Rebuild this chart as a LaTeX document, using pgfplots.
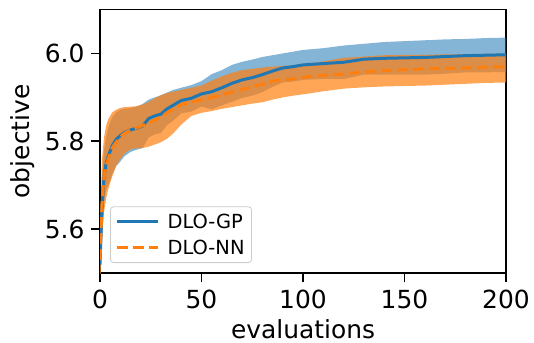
\documentclass[border=0pt]{standalone}
\usepackage{fontspec}
\setmainfont{DejaVu Sans}
\usepackage{pgfplots}
\usepackage{pgfplotstable}
\pgfplotsset{compat=1.18}
\usepgfplotslibrary{fillbetween}
\definecolor{tabblue}{HTML}{1F77B4}
\definecolor{taborange}{HTML}{FF7F0E}

\pgfplotstableread{
x    m      lo     hi
0    5.52   5.48   5.56
1    5.65   5.58   5.72
2    5.72   5.66   5.78
3    5.75   5.69   5.81
4    5.765  5.70   5.83
6    5.79   5.725  5.855
8    5.805  5.744  5.866
10   5.813  5.754  5.872
12   5.82   5.766  5.874
15   5.826  5.776  5.876
18   5.83   5.781  5.879
21   5.835  5.785  5.885
24   5.852  5.809  5.895
27   5.858  5.816  5.900
30   5.862  5.819  5.905
33   5.874  5.837  5.911
36   5.882  5.847  5.917
40   5.893  5.864  5.922
45   5.898  5.868  5.928
50   5.908  5.879  5.937
55   5.913  5.873  5.953
60   5.922  5.882  5.962
65   5.932  5.890  5.974
70   5.940  5.899  5.981
75   5.945  5.904  5.986
80   5.952  5.912  5.992
85   5.960  5.924  5.996
90   5.967  5.934  6.000
95   5.970  5.936  6.004
100  5.974  5.940  6.008
110  5.977  5.942  6.012
120  5.980  5.942  6.018
130  5.987  5.952  6.022
140  5.989  5.952  6.026
150  5.990  5.952  6.028
160  5.991  5.952  6.030
170  5.993  5.954  6.032
180  5.995  5.957  6.033
190  5.996  5.957  6.035
200  5.997  5.958  6.036
}\gpdata

\pgfplotstableread{
x    m      lo     hi
0    5.53   5.45   5.60
1    5.66   5.59   5.76
2    5.72   5.64   5.81
3    5.745  5.67   5.835
4    5.76   5.69   5.85
6    5.785  5.72   5.866
8    5.798  5.745  5.872
10   5.81   5.76   5.876
12   5.818  5.772  5.878
15   5.826  5.782  5.879
18   5.831  5.784  5.880
21   5.836  5.785  5.884
24   5.842  5.788  5.890
27   5.848  5.793  5.898
30   5.856  5.798  5.905
33   5.865  5.806  5.910
36   5.873  5.818  5.913
40   5.884  5.838  5.917
45   5.889  5.858  5.922
50   5.894  5.865  5.927
55   5.900  5.869  5.938
60   5.906  5.874  5.948
65   5.912  5.878  5.956
70   5.918  5.882  5.962
75   5.924  5.886  5.965
80   5.930  5.889  5.968
85   5.937  5.895  5.970
90   5.940  5.900  5.972
95   5.942  5.904  5.973
100  5.946  5.907  5.975
110  5.950  5.914  5.982
120  5.953  5.920  5.990
130  5.958  5.923  5.993
140  5.961  5.925  5.996
150  5.963  5.926  5.997
160  5.965  5.927  5.997
170  5.966  5.929  5.998
180  5.967  5.931  5.998
190  5.969  5.933  5.999
200  5.970  5.934  6.000
}\nndata

\begin{document}
\begin{tikzpicture}
\begin{axis}[
  at={(100bp,69.7bp)}, anchor=south west,
  scale only axis, width=406bp, height=263.8bp,
  xmin=0, xmax=200, ymin=5.5, ymax=6.1,
  xtick={0,50,100,150,200},
  ytick={5.6,5.8,6.0},
  yticklabel style={xshift=-3bp, /pgf/number format/.cd,fixed,fixed zerofill,precision=1},
  /pgf/number format/assume math mode=true,
  ticklabel style={font=\fontsize{25}{25}\selectfont},
  xticklabel style={yshift=-4bp},
  label style={font=\fontsize{25}{25}\selectfont},
  tick align=outside, tick pos=left,
  major tick length=9bp,
  every tick/.style={line width=1.8bp, black},
  axis line style={line width=1.8bp},
  xlabel={evaluations}, ylabel={objective},
  xlabel style={at={(axis description cs:0.5,-0.212)}, anchor=center, inner sep=0pt},
  ylabel style={at={(axis description cs:-0.19,0.5)}, anchor=center},
  legend style={at={(axis description cs:0.025,0.039)}, anchor=south west,
    draw=black!20, line width=0.8bp, rounded corners=3bp, fill=white, fill opacity=0.8, text opacity=1,
    font=\fontsize{19.5}{19.5}\selectfont, row sep=6bp, inner xsep=5bp, inner ysep=5bp,
    /tikz/every odd column/.style={column sep=6bp}},
  legend cell align=left,
  legend image code/.code={\draw[#1] (0bp,0bp) -- (41bp,0bp);},
]
\addplot[name path=gphi, draw=none, forget plot] table[x=x,y=hi]{\gpdata};
\addplot[name path=gplo, draw=none, forget plot] table[x=x,y=lo]{\gpdata};
\addplot[fill=tabblue, fill opacity=0.55, draw=none, forget plot] fill between[of=gphi and gplo];
\addplot[name path=nnhi, draw=none, forget plot] table[x=x,y=hi]{\nndata};
\addplot[name path=nnlo, draw=none, forget plot] table[x=x,y=lo]{\nndata};
\addplot[fill=taborange, fill opacity=0.7, draw=none, forget plot] fill between[of=nnhi and nnlo];
\addplot[tabblue, line width=3bp] table[x=x,y=m]{\gpdata};
\addlegendentry{DLO-GP}
\addplot[taborange, line width=3bp, dash pattern=on 11bp off 5bp] table[x=x,y=m]{\nndata};
\addlegendentry{DLO-NN}
\end{axis}
\pgfresetboundingbox
\useasboundingbox (0,0) rectangle (534bp,343bp);
\end{tikzpicture}
\end{document}
